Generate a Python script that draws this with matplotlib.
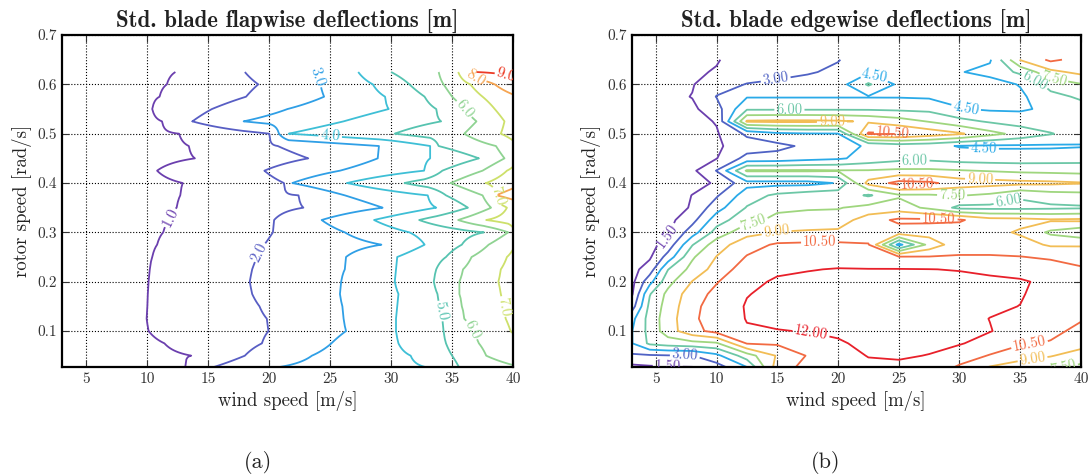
import numpy as np
import matplotlib
matplotlib.use('Agg')
import matplotlib.pyplot as plt
from matplotlib.ticker import FormatStrFormatter

# ---------------- (a) flapwise: wind speed where each level is crossed, per rotor-speed row
rotor_flap = [0.025, 0.05, 0.075, 0.1, 0.125, 0.15, 0.175, 0.2, 0.225, 0.25, 0.275, 0.3,
              0.325, 0.35, 0.375, 0.4, 0.425, 0.45, 0.475, 0.5, 0.525, 0.55, 0.575, 0.6, 0.625]
flap_levels = [1.0, 2.0, 3.0, 4.0, 5.0, 6.0, 7.0, 8.0, 9.0]
flap_1m = [13.1, 13.6, 11.4, 10.1, 9.95, 10.0, 10.05, 10.1, 10.2, 10.4, 10.8, 11.3, 11.8,
           12.4, 12.7, 12.9, 10.8, 13.9, 13.4, 12.6, 11.2, 10.4, 11.0, 11.6, 12.3]
flap_2m = [15.2, 18.0, 19.4, 19.95, 19.8, 19.2, 18.6, 18.4, 18.6, 19.0, 19.6, 20.3, 20.4,
           22.8, 22.4, 21.2, 19.6, 23.2, 20.7, 20.0, 13.7, 15.3, 18.1, 19.1, 18.0]
flap_3m = [20.3, 23.5, 25.1, 26.3, 26.1, 26.0, 25.8, 25.9, 26.2, 26.3, 29.2, 26.2, 24.3,
           29.3, 26.2, 21.9, 25.8, 28.9, 29.0, 20.8, 17.9, 21.5, 24.5, 24.2, 23.8]
flap_4m = [33.2, 31.6, 30.6, 30.4, 30.4, 30.5, 30.6, 30.3, 30.4, 30.5, 32.75, 31.5, 28.6,
           33.7, 33.0, 26.4, 32.7, 33.2, 33.2, 21.6, 26.1, 29.8, 29.5, 28.5, 27.3]
flap_5m = [35.6, 35.0, 34.5, 34.3, 34.2, 34.0, 33.8, 33.5, 33.7, 34.5, 35.8, 37.6, 32.3,
           36.3, 34.5, 31.1, 34.2, 37.2, 33.9, 30.3, 34.1, 33.7, 32.75, 31.5, 30.0]
flap_6m = [41.0, 37.8, 37.2, 36.7, 36.0, 35.8, 35.6, 35.6, 35.9, 36.6, 38.0, 39.6, 35.5,
           38.2, 37.5, 34.9, 37.5, 39.3, 38.6, 36.0, 37.0, 36.0, 35.0, 34.3, 33.9]
flap_7m = [42.0, 41.5, 41.0, 39.8, 39.4, 39.2, 39.0, 38.8, 39.0, 39.5, 40.2, 40.2, 37.8,
           39.5, 38.8, 37.8, 39.5, 40.5, 40.5, 39.0, 39.3, 38.5, 37.5, 36.5, 35.5]
flap_8m = [43.0, 43.0, 43.0, 43.0, 43.0, 43.0, 43.0, 43.0, 43.0, 43.0, 43.0, 43.0, 42.0,
           41.5, 38.6, 41.0, 42.0, 43.0, 43.0, 42.0, 41.5, 41.0, 40.5, 38.5, 36.4]
flap_9m = [44.0, 44.0, 44.0, 44.0, 44.0, 44.0, 44.0, 44.0, 44.0, 44.0, 44.0, 44.0, 44.0,
           44.0, 42.0, 43.0, 44.0, 44.0, 44.0, 44.0, 44.0, 43.0, 42.0, 40.5, 37.0]

# ---------------- (b) edgewise: grid of values (rows = rotor speed, columns = wind speed)
wind_edge = [3, 4.5, 6, 8, 10, 12.5, 15, 17.5, 20, 22.5, 25, 27.5, 30, 32.5, 35, 37.5, 40]
rotor_edge = [0.025, 0.05, 0.075, 0.1, 0.125, 0.15, 0.175, 0.2, 0.225, 0.25, 0.275, 0.3, 0.325,
              0.35, 0.375, 0.4, 0.425, 0.45, 0.475, 0.5, 0.525, 0.55, 0.575, 0.6, 0.625, 0.65]
edge_levels = [1.5, 3.0, 4.5, 6.0, 7.5, 9.0, 10.5, 12.0]
edge_r0025 = [1.0, 1.2, 1.3, 1.35, 2.2, 4.3, 9.8, 11.0, 11.5, 11.7, 11.8, 11.5, 10.2, 8.8, 8.3, 7.7, 7.1]
edge_r0050 = [2.75, 2.8, 2.9, 2.95, 4.1, 6.8, 9.15, 10.6, 11.5, 12.05, 12.1, 11.97, 11.3, 10.4, 9.5, 9.1, 8.3]
edge_r0075 = [4.4, 6.3, 6.7, 7.0, 7.3, 10.6, 10.7, 11.3, 11.9, 12.2, 12.3, 12.2, 12.1, 11.5, 10.7, 10.4, 9.6]
edge_r0100 = [4.4, 6.5, 8.3, 10.0, 11.0, 11.9, 11.95, 12.05, 12.15, 12.3, 12.4, 12.4, 12.3, 12.05, 11.5, 10.8, 10.2]
edge_r0125 = [4.0, 6.6, 8.3, 10.2, 11.3, 12.05, 12.3, 12.4, 12.4, 12.45, 12.5, 12.5, 12.4, 11.98, 11.7, 11.1, 10.6]
edge_r0150 = [2.2, 6.4, 8.1, 10.1, 11.2, 12.1, 12.35, 12.45, 12.5, 12.5, 12.5, 12.5, 12.45, 12.2, 11.98, 11.4, 10.9]
edge_r0175 = [1.2, 5.9, 7.9, 9.8, 10.9, 11.95, 12.3, 12.45, 12.5, 12.5, 12.5, 12.5, 12.45, 12.3, 12.1, 11.5, 11.0]
edge_r0200 = [1.0, 4.0, 7.0, 9.05, 10.4, 11.7, 12.15, 12.25, 12.3, 12.35, 12.35, 12.35, 12.3, 12.2, 12.15, 11.7, 11.0]
edge_r0225 = [1.0, 2.2, 5.95, 8.0, 9.6, 11.3, 11.8, 11.95, 12.05, 12.05, 12.05, 12.02, 11.95, 11.8, 11.5, 11.2, 10.8]
edge_r0250 = [1.0, 1.3, 3.6, 7.3, 9.05, 10.6, 11.2, 11.4, 11.5, 10.9, 10.7, 10.6, 10.6, 10.6, 10.55, 10.3, 9.6]
edge_r0275 = [1.0, 1.05, 2.1, 5.9, 8.3, 9.9, 10.7, 10.8, 10.8, 10.6, 4.0, 8.0, 10.0, 10.0, 9.6, 8.8, 8.9]
edge_r0300 = [1.0, 1.0, 1.3, 3.8, 6.6, 8.5, 9.05, 9.2, 9.3, 9.6, 9.8, 9.7, 9.6, 9.5, 8.8, 7.2, 6.4]
edge_r0325 = [1.0, 1.0, 1.05, 2.5, 5.3, 7.0, 7.9, 8.1, 8.2, 9.8, 10.8, 10.8, 10.7, 9.6, 9.5, 9.2, 9.3]
edge_r0350 = [1.0, 1.0, 1.0, 1.6, 3.9, 6.1, 7.2, 7.35, 7.4, 8.0, 8.2, 7.2, 5.6, 5.6, 5.6, 5.7, 5.8]
edge_r0375 = [1.0, 1.0, 1.0, 1.52, 2.8, 5.3, 6.3, 6.8, 7.0, 5.8, 7.3, 7.3, 7.6, 7.2, 6.2, 6.8, 7.0]
edge_r0400 = [1.0, 1.0, 1.0, 1.2, 1.6, 4.0, 4.0, 4.0, 4.6, 9.5, 11.0, 10.8, 9.8, 9.6, 9.4, 9.3, 9.1]
edge_r0425 = [1.0, 1.0, 1.0, 1.2, 3.05, 7.7, 7.7, 7.7, 7.6, 7.6, 7.8, 7.8, 7.6, 7.4, 7.2, 7.1, 7.0]
edge_r0450 = [1.0, 1.0, 1.0, 1.0, 1.45, 3.5, 3.6, 4.0, 4.3, 5.0, 5.5, 5.6, 5.3, 5.2, 5.2, 5.3, 5.4]
edge_r0475 = [1.0, 1.0, 1.0, 0.9, 1.3, 2.2, 2.6, 3.3, 4.2, 4.6, 5.2, 5.0, 4.4, 4.3, 4.3, 4.3, 4.4]
edge_r0500 = [1.0, 1.0, 1.0, 0.9, 1.35, 3.3, 4.2, 4.4, 4.45, 10.7, 10.6, 9.9, 9.2, 8.0, 7.0, 6.1, 5.2]
edge_r0525 = [1.0, 1.0, 1.0, 1.0, 1.6, 9.2, 9.3, 9.3, 9.2, 8.8, 8.2, 7.4, 6.5, 5.8, 5.3, 5.0, 4.9]
edge_r0550 = [1.0, 1.0, 1.0, 1.2, 2.4, 5.8, 5.8, 5.8, 5.8, 5.8, 5.7, 5.6, 4.6, 4.3, 4.3, 4.8, 5.5]
edge_r0575 = [1.05, 1.05, 1.1, 1.55, 3.05, 4.4, 4.4, 4.4, 4.4, 4.4, 4.4, 4.3, 4.0, 4.0, 4.2, 5.6, 6.2]
edge_r0600 = [1.1, 1.1, 1.1, 1.4, 2.5, 3.05, 3.2, 3.4, 3.8, 6.2, 4.2, 4.1, 3.9, 3.8, 4.6, 6.5, 7.4]
edge_r0625 = [1.1, 1.1, 1.1, 1.3, 1.6, 2.4, 2.7, 2.9, 3.2, 4.3, 3.8, 3.9, 4.4, 5.0, 6.3, 8.6, 9.4]
edge_r0650 = [1.0, 1.0, 1.0, 1.2, 1.4, 2.2, 2.5, 2.8, 2.95, 3.6, 3.6, 3.6, 3.7, 4.3, 9.1, 10.8, 10.0]

flap_colors = ['#6b3fae', '#585ec4', '#2f9fe6', '#3ebfd6', '#56c3b0',
               '#8fd392', '#cde06a', '#f6a552', '#ec3b26']
edge_colors = ['#6b3fae', '#4f62c4', '#2aaae8', '#6cc7a6', '#9fd67e',
               '#f2bd55', '#f26a42', '#e8202a']

plt.rcParams['font.family'] = ['cmr10', 'DejaVu Serif']
plt.rcParams['axes.formatter.use_mathtext'] = True
plt.rcParams['axes.unicode_minus'] = False

fig = plt.figure(figsize=(10.92, 4.74), dpi=100)
axL = fig.add_axes([0.0568, 0.2257, 0.4130, 0.7004])
axR = fig.add_axes([0.5783, 0.2257, 0.4116, 0.7004])

# build the value table for (a) from the read crossing positions
xs = np.linspace(3, 40, 371)
flap_rows = [flap_1m, flap_2m, flap_3m, flap_4m, flap_5m, flap_6m, flap_7m, flap_8m, flap_9m]
Zf = np.empty((len(rotor_flap), xs.size))
for i in range(len(rotor_flap)):
    xp = [0.0] + [r[i] for r in flap_rows] + [50.0]
    fp = [0.3] + flap_levels + [10.0]
    Zf[i] = np.interp(xs, xp, fp)

csL = axL.contour(xs, rotor_flap, Zf, levels=flap_levels, colors=flap_colors, linewidths=1.3)
axL.clabel(csL, fmt='%.1f', fontsize=11, inline=True, inline_spacing=2,
           manual=[(11.8, 0.33), (18.2, 0.27), (23.4, 0.61), (25.0, 0.495), (33.9, 0.14),
                   (36.0, 0.55), (36.4, 0.1), (38.3, 0.372), (39.3, 0.15), (37.0, 0.615),
                   (39.3, 0.608)])

Ze = np.array([edge_r0025, edge_r0050, edge_r0075, edge_r0100, edge_r0125, edge_r0150,
               edge_r0175, edge_r0200, edge_r0225, edge_r0250, edge_r0275, edge_r0300,
               edge_r0325, edge_r0350, edge_r0375, edge_r0400, edge_r0425, edge_r0450,
               edge_r0475, edge_r0500, edge_r0525, edge_r0550, edge_r0575, edge_r0600,
               edge_r0625, edge_r0650])
csR = axR.contour(wind_edge, rotor_edge, Ze, levels=edge_levels, colors=edge_colors, linewidths=1.3)
axR.clabel(csR, fmt='%.2f', fontsize=10.5, inline=True, inline_spacing=2,
           manual=[(5.9, 0.295), (6.0, 0.035), (14.9, 0.605), (7.4, 0.054),
                   (30.5, 0.548), (32.0, 0.47), (16.0, 0.547), (26.3, 0.44), (36.0, 0.597),
                   (34.0, 0.366), (37.7, 0.607), (29.4, 0.377), (12.9, 0.332), (38.5, 0.03),
                   (14.9, 0.305), (31.7, 0.41), (19.5, 0.525), (36.0, 0.045),
                   (24.5, 0.502), (26.5, 0.4), (28.3, 0.325), (18.5, 0.28), (35.8, 0.065),
                   (17.8, 0.098), (22.9, 0.614)])

for ax, title in ((axL, 'Std. blade flapwise deflections [m]'),
                  (axR, 'Std. blade edgewise deflections [m]')):
    ax.set_xlim(3, 40)
    ax.set_ylim(0.027, 0.7)
    ax.set_xticks([5, 10, 15, 20, 25, 30, 35, 40])
    ax.set_yticks([0.1, 0.2, 0.3, 0.4, 0.5, 0.6, 0.7])
    ax.xaxis.set_major_formatter(FormatStrFormatter('%d'))
    ax.yaxis.set_major_formatter(FormatStrFormatter('%.1f'))
    ax.grid(True, linestyle=':', color='black', linewidth=0.8)
    ax.tick_params(direction='in', length=5, width=0.8, top=True, right=True,
                   labelsize=11, colors='#333333', labelcolor='#333333')
    for s in ax.spines.values():
        s.set_linewidth(1.6)
    ax.set_xlabel('wind speed [m/s]', fontsize=13.5, color='#222222')
    ax.set_ylabel('rotor speed [rad/s]', fontsize=13.5, color='#222222')
    ax.set_title(title, fontfamily='cmb10', fontsize=16.5, color='#222222', pad=5)

fig.text(0.2363, 0.025, '(a)', ha='center', va='center', fontsize=16, color='#222222')
fig.text(0.7564, 0.025, '(b)', ha='center', va='center', fontsize=16, color='#222222')

fig.savefig('out.png', dpi=100)
